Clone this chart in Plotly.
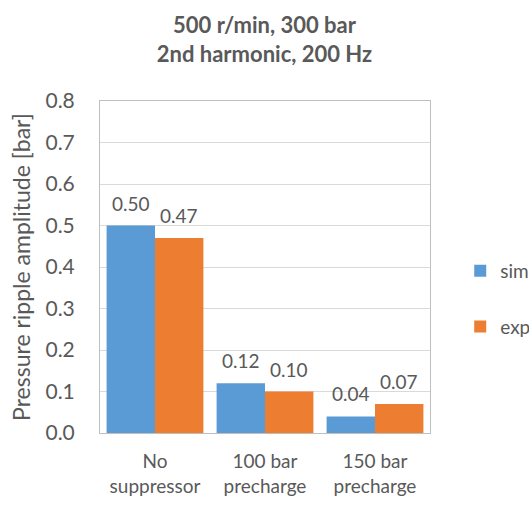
import plotly.graph_objects as go

# Pressure ripple amplitude at the 2nd harmonic (200 Hz), 500 r/min, 300 bar
categories = ["No<br>suppressor", "100 bar<br>precharge", "150 bar<br>precharge"]
sim_values = [0.50, 0.12, 0.04]
exp_values = [0.47, 0.10, 0.07]
y_ticks = [0.0, 0.1, 0.2, 0.3, 0.4, 0.5, 0.6, 0.7, 0.8]

BLUE = "#5B9BD5"
ORANGE = "#ED7D31"
TEXT = "#595959"
FONT = "Lato"

fig = go.Figure()
fig.add_trace(go.Bar(name="sim", x=categories, y=sim_values,
                     marker=dict(color=BLUE, line=dict(width=0)),
                     legendgroup="sim"))
fig.add_trace(go.Bar(name="exp", x=categories, y=exp_values,
                     marker=dict(color=ORANGE, line=dict(width=0)),
                     legendgroup="exp"))

# value labels above each bar
BAR_SHIFT = 24
for vals, dx in ((sim_values, -BAR_SHIFT), (exp_values, BAR_SHIFT)):
    for cat, v in zip(categories, vals):
        fig.add_annotation(x=cat, y=v, text=f"{v:.2f}", showarrow=False,
                           xshift=dx, yshift=9, yanchor="bottom",
                           font=dict(family=FONT, size=19, color=TEXT))

fig.update_layout(
    width=529, height=505,
    margin=dict(l=100, r=99, t=101, b=72, autoexpand=False),
    paper_bgcolor="white", plot_bgcolor="white",
    barmode="group", bargap=0.12, bargroupgap=0,
    font=dict(family=FONT, color=TEXT, size=19),
    title=dict(text="500 r/min, 300 bar<br>2nd harmonic, 200 Hz",
               x=0.5, xanchor="center", xref="container",
               y=0.934, yanchor="top", yref="container",
               font=dict(family=FONT, size=22, color=TEXT, weight="bold")),
    legend=dict(x=0.87, xanchor="left", xref="container",
                y=0.404, yanchor="middle",
                traceorder="grouped", tracegroupgap=28,
                font=dict(family=FONT, size=19, color=TEXT),
                bgcolor="rgba(0,0,0,0)"),
)

fig.update_yaxes(range=[0, 0.8], tickvals=y_ticks, tickformat=".1f",
                 showgrid=True, gridcolor="#D9D9D9", gridwidth=1,
                 showline=True, linecolor="#BFBFBF", linewidth=1, mirror=True,
                 zeroline=False, ticks="", ticklabelstandoff=20,
                 title=dict(text="Pressure ripple amplitude [bar]", standoff=8,
                            font=dict(family=FONT, size=23, color=TEXT)),
                 tickfont=dict(family=FONT, size=21, color=TEXT))
fig.update_xaxes(showline=True, linecolor="#BFBFBF", linewidth=1, mirror=True,
                 ticks="", ticklabelstandoff=11,
                 tickfont=dict(family=FONT, size=19, color=TEXT))

fig.write_html("out.html")
